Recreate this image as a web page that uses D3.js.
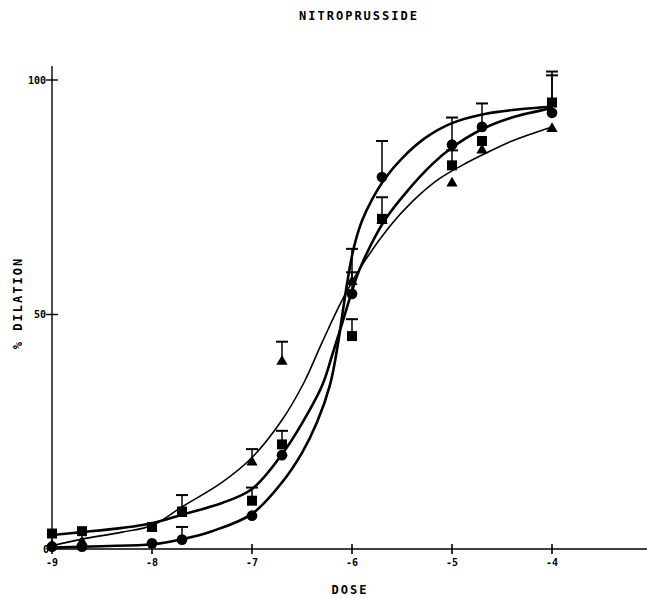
<!DOCTYPE html>
<html>
<head>
<meta charset="utf-8">
<script src="https://cdn.jsdelivr.net/npm/d3@7"></script>
<style>
  html, body { margin: 0; padding: 0; background: #fff; }
  text { font-family: "DejaVu Sans Mono", "Liberation Mono", monospace; font-weight: bold; fill: #000; }
</style>
</head>
<body>
<div id="chart"></div>
<script>
// log dose (M) at which each point was measured
const doses = [-9, -8.7, -8, -7.7, -7, -6.7, -6, -5.7, -5, -4.7, -4];

// mean % dilation per series
const circleMeans   = [0.5, 0.5, 1.2, 2.0, 7.1, 20.0, 54.4, 79.3, 86.2, 90.0, 93.0];
const circleErr     = [0, 0, 0, 2.7, 0, 0, 4.6, 7.7, 5.8, 5.0, 8.0];
const squareMeans   = [3.3, 3.8, 4.7, 8.0, 10.3, 22.3, 45.4, 70.4, 81.8, 87.0, 95.2];
const squareErr     = [0, 0, 0, 3.5, 2.8, 2.9, 3.6, 4.6, 3.2, 0, 6.6];
const triangleMeans = [0.8, 1.5, 4.5, 7.5, 18.5, 40.0, 57.0, 70.0, 78.0, 85.0, 89.6];
const triangleErr   = [0, 0, 0, 0, 2.8, 4.2, 7.0, 0, 0, 0, 0];

// fitted curves
const circleCurveX = [-9, -8.5, -8, -7.7, -7.4, -7, -6.7, -6.5, -6.35, -6.22, -6.15, -6.1, -6.05, -6.0, -5.95, -5.9, -5.8, -5.67, -5.5, -5.27, -5.0, -4.66, -4.3, -4.0];
const circleCurveY = [0.3, 0.6, 1.0, 2.1, 3.8, 7.5, 14.2, 20.5, 27, 35, 42.5, 49.5, 56.5, 62.5, 66.8, 70, 74.5, 79, 83.3, 87.6, 90.8, 92.8, 93.8, 94.3];
const squareCurveX = [-9, -8.7, -8.3, -8, -7.7, -7.3, -7, -6.7, -6.5, -6.3, -6.2, -6.1, -6.0, -5.93, -5.8, -5.67, -5.46, -5.2, -5.0, -4.7, -4.4, -4.0];
const squareCurveY = [3.0, 3.6, 4.5, 5.5, 7.3, 9.8, 12.8, 20.2, 26.8, 34.8, 41.2, 48, 55, 59.3, 65.3, 70.2, 76, 82, 85.6, 89.5, 92, 94];
const triangleCurveX = [-9, -8.7, -8.3, -8, -7.7, -7.3, -7, -6.7, -6.48, -6.3, -6.1, -5.9, -5.63, -5.4, -5.13, -4.9, -4.7, -4.4, -4.0];
const triangleCurveY = [0.7, 2.1, 3.6, 5.0, 9.0, 14.2, 19.5, 27.5, 35.5, 44, 53, 60.5, 68.6, 74, 78.9, 81.8, 84, 87, 90];

const xTicks = [-9, -8, -7, -6, -5, -4];
const yTicks = [0, 50, 100];

const width = 647, height = 598;

const svg = d3.select("#chart").append("svg")
  .attr("width", width)
  .attr("height", height);

const x = d3.scaleLinear().domain([-9, -4]).range([52, 552]);
const y = d3.scaleLinear().domain([0, 100]).range([549, 80]);

// axes
svg.append("line")
  .attr("x1", x(-9)).attr("x2", width)
  .attr("y1", y(0)).attr("y2", y(0))
  .attr("stroke", "#000").attr("stroke-width", 1.6);
svg.append("line")
  .attr("x1", x(-9)).attr("x2", x(-9))
  .attr("y1", y(0)).attr("y2", 66)
  .attr("stroke", "#000").attr("stroke-width", 1.4);

svg.selectAll(".xtick").data(xTicks).enter().append("line")
  .attr("x1", d => x(d)).attr("x2", d => x(d))
  .attr("y1", y(0) - 5).attr("y2", y(0) + 5)
  .attr("stroke", "#000").attr("stroke-width", 1.6);
svg.selectAll(".xlab").data(xTicks).enter().append("text")
  .attr("x", d => x(d)).attr("y", y(0) + 17)
  .attr("text-anchor", "middle")
  .style("font-size", "10px")
  .text(d => d);

svg.selectAll(".ytick").data(yTicks.slice(1)).enter().append("line")
  .attr("x1", x(-9) - 6).attr("x2", x(-9) + 6)
  .attr("y1", d => y(d)).attr("y2", d => y(d))
  .attr("stroke", "#000").attr("stroke-width", 1.4);
svg.selectAll(".ylab").data(yTicks).enter().append("text")
  .attr("x", d => d === 0 ? x(-9) - 3 : x(-9) - 6)
  .attr("y", d => y(d) + 3.5)
  .attr("text-anchor", "end")
  .style("font-size", "10px")
  .text(d => d);

// titles
svg.append("text")
  .attr("x", 359).attr("y", 20)
  .attr("text-anchor", "middle")
  .style("font-size", "12px").style("letter-spacing", "2px")
  .text("NITROPRUSSIDE");
svg.append("text")
  .attr("x", 350).attr("y", 594)
  .attr("text-anchor", "middle")
  .style("font-size", "12px").style("letter-spacing", "2px")
  .text("DOSE");
svg.append("text")
  .attr("transform", "translate(22,303) rotate(-90)")
  .attr("text-anchor", "middle")
  .style("font-size", "12px").style("letter-spacing", "2px")
  .text("% DILATION");

// curves
const line = d3.line()
  .x(d => x(d[0]))
  .y(d => y(d[1]))
  .curve(d3.curveCatmullRom.alpha(0.5));

const curves = [
  { xs: circleCurveX, ys: circleCurveY, w: 2.6 },
  { xs: squareCurveX, ys: squareCurveY, w: 2.6 },
  { xs: triangleCurveX, ys: triangleCurveY, w: 1.6 }
];
curves.forEach(c => {
  svg.append("path")
    .datum(c.xs.map((d, i) => [d, c.ys[i]]))
    .attr("d", line)
    .attr("fill", "none")
    .attr("stroke", "#000")
    .attr("stroke-width", c.w);
});

// error bars + markers
const series = [
  { means: triangleMeans, err: triangleErr, shape: d3.symbolTriangle, size: 55 },
  { means: squareMeans, err: squareErr, shape: d3.symbolSquare, size: 100 },
  { means: circleMeans, err: circleErr, shape: d3.symbolCircle, size: 90 }
];

series.forEach(s => {
  const pts = doses.map((d, i) => ({ x: d, y: s.means[i], e: s.err[i] }));
  const bars = pts.filter(p => p.e > 0);
  const g = svg.append("g");
  g.selectAll(".bar").data(bars).enter().append("line")
    .attr("x1", p => x(p.x)).attr("x2", p => x(p.x))
    .attr("y1", p => y(p.y)).attr("y2", p => y(p.y + p.e))
    .attr("stroke", "#000").attr("stroke-width", 1.5);
  g.selectAll(".cap").data(bars).enter().append("line")
    .attr("x1", p => x(p.x) - 6).attr("x2", p => x(p.x) + 6)
    .attr("y1", p => y(p.y + p.e)).attr("y2", p => y(p.y + p.e))
    .attr("stroke", "#000").attr("stroke-width", 2);
  g.selectAll(".pt").data(pts).enter().append("path")
    .attr("transform", p => `translate(${x(p.x)},${y(p.y)})`)
    .attr("d", d3.symbol().type(s.shape).size(s.size))
    .attr("fill", "#000");
});
</script>
</body>
</html>
